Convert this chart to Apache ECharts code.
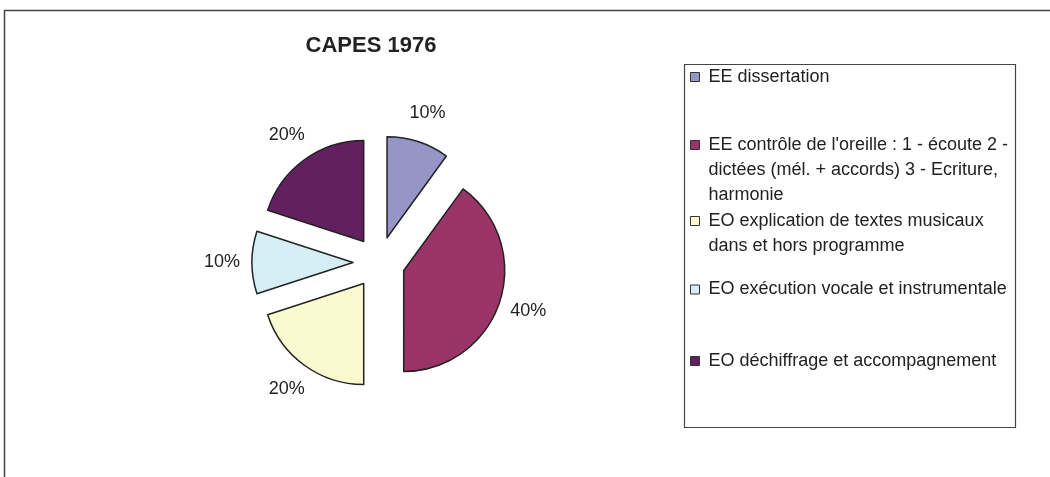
<!DOCTYPE html>
<html><head><meta charset="utf-8">
<script src="https://cdn.jsdelivr.net/npm/echarts@6/dist/echarts.min.js"></script>
<style>html,body{margin:0;padding:0;background:#fff;} #c{width:1050px;height:477px;}</style>
</head><body><div id="c"></div>
<script>
// ---- data ----
const chartTitle = 'CAPES 1976';
const categories = [
  'EE dissertation',
  "EE contrôle de l'oreille : 1 - écoute 2 - dictées (mél. + accords) 3 - Ecriture, harmonie",
  'EO explication de textes musicaux dans et hors programme',
  'EO exécution vocale et instrumentale',
  'EO déchiffrage et accompagnement'
];
const legendLabels = [
  'EE dissertation',
  "EE contrôle de l'oreille : 1 - écoute 2 -\ndictées (mél. + accords) 3 - Ecriture,\nharmonie",
  'EO explication de textes musicaux\ndans et hors programme',
  'EO exécution vocale et instrumentale',
  'EO déchiffrage et accompagnement'
];
const values = [10, 40, 20, 10, 20];

// ---- styling / layout ----
const colors = ['#9595c8', '#9a3366', '#fbf9d0', '#d5edf4', '#63205f'];
const FONT = '"Liberation Sans", Arial, sans-serif';
const legendIconY = [77, 145, 221, 289.5, 361];
const LINE_H = 25;

const chart = echarts.init(document.getElementById('c'), null, {renderer: 'canvas'});

const pieData = categories.map((n, i) => ({
  name: n, value: values[i], selected: true,
  itemStyle: {color: colors[i]}
}));
const ghostData = categories.map((n, i) => ({name: n, value: values[i]}));

const legends = categories.map((n, i) => {
  const lines = legendLabels[i].split('\n').length;
  // leading blank lines keep the first text line level with the icon
  const txt = '\n'.repeat(lines - 1) + legendLabels[i];
  return {
    orient: 'vertical',
    left: 690,
    top: legendIconY[i] - (2 * lines - 1) * LINE_H / 2,
    padding: 0,
    data: [n],
    icon: 'rect',
    itemWidth: 9,
    itemHeight: 9,
    selectedMode: false,
    itemStyle: {borderColor: '#333', borderWidth: 1},
    formatter: () => txt,
    textStyle: {
      fontFamily: FONT, fontSize: 18, color: '#222', lineHeight: LINE_H,
      padding: [0, 0, 0, 4]
    }
  };
});

chart.setOption({
  animation: false,
  backgroundColor: '#fff',
  title: {
    text: chartTitle,
    left: 366, top: 30, textAlign: 'center',
    textStyle: {fontFamily: FONT, fontSize: 22, fontWeight: 'bold', color: '#222'}
  },
  legend: legends,
  graphic: [
    {type: 'rect', silent: true, shape: {x: 4.5, y: 10.5, width: 1200, height: 600},
     style: {fill: 'none', stroke: '#444', lineWidth: 1.5}},
    {type: 'rect', silent: true, shape: {x: 684.5, y: 64.5, width: 331, height: 363},
     style: {fill: 'none', stroke: '#444', lineWidth: 1.2}}
  ],
  series: [
    {
      type: 'pie',
      center: [379, 262.5],
      radius: 101,
      startAngle: 90,
      clockwise: true,
      selectedMode: 'multiple',
      selectedOffset: 26,
      label: {show: false},
      labelLine: {show: false},
      itemStyle: {borderColor: '#222', borderWidth: 1.5},
      select: {itemStyle: {borderColor: '#222', borderWidth: 1.5}},
      emphasis: {disabled: true},
      data: pieData
    },
    {
      type: 'pie',
      silent: true,
      center: [379, 262.5],
      radius: [146, 162],
      startAngle: 90,
      clockwise: true,
      itemStyle: {color: 'rgba(0,0,0,0)', borderWidth: 0},
      emphasis: {disabled: true},
      label: {show: true, position: 'inside', formatter: '{d}%',
              fontFamily: FONT, fontSize: 18, color: '#222'},
      labelLine: {show: false},
      data: ghostData
    }
  ]
});
</script></body></html>
